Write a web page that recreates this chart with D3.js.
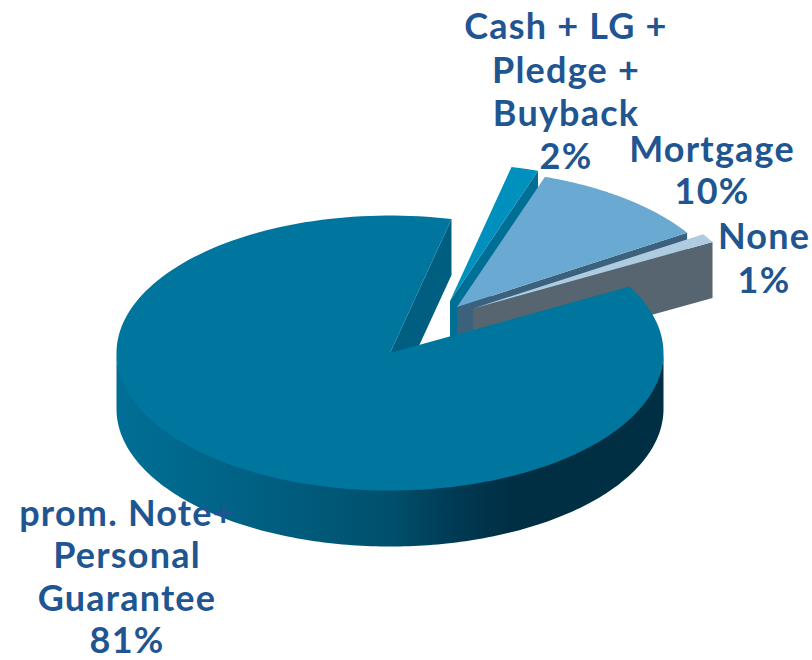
<!DOCTYPE html>
<html><head><meta charset="utf-8">
<script src="https://cdn.jsdelivr.net/npm/d3@7"></script>
<style>html,body{margin:0;padding:0;background:#fff}svg{display:block}</style>
</head><body><svg id="c" width="812" height="660"></svg>
<script>
const categories = ["Cash + LG + Pledge + Buyback", "Mortgage", "None", "prom. Note+ Personal Guarantee"];
const values = [1.5, 10, 1, 81];
const labelLines = [
  ["Cash + LG +", "Pledge +", "Buyback", "2%"],
  ["Mortgage", "10%"],
  ["None", "1%"],
  ["prom. Note+", "Personal", "Guarantee", "81%"]
];

const W = 812, H = 660, depth = 56, rx = 273.5, ry = 137.5;
const deg = Math.PI / 180;
const centers = [[450, 301], [457, 307], [473, 308.5], [390, 353]];
const tops = ["#0090bd", "#6aa9d2", "#aecbe0", "#00769f"];
const sides = ["#006f96", "#3b617d", "#56656f", "#005f81"];
const labelPos = [
  {x: 566, ys: [26, 70, 113, 156]},
  {x: 712, ys: [149, 191]},
  {x: 764, ys: [236, 280]},
  {x: 127, ys: [513, 555, 598, 640]}
];

const pie = d3.pie().sort(null).startAngle(13 * deg).endAngle(373 * deg);
const arcs = pie(values);
const svg = d3.select("#c");
const defs = svg.append("defs");
const grad = defs.append("linearGradient").attr("id", "rim").attr("gradientUnits", "userSpaceOnUse")
  .attr("x1", 116).attr("x2", 663).attr("y1", 0).attr("y2", 0);
[[0, "#006f96"], [0.28, "#005f81"], [0.5, "#00506d"], [0.62, "#003a53"], [0.72, "#002f44"], [1, "#002f44"]]
  .forEach(s => grad.append("stop").attr("offset", s[0]).attr("stop-color", s[1]));

const px = d3.scaleLinear().domain([-1, 1]).range([-rx, rx]);
const py = d3.scaleLinear().domain([-1, 1]).range([ry, -ry]);
const line = d3.line();
const point = (c, a, dz) => [c[0] + px(Math.sin(a)), c[1] + py(Math.cos(a)) + (dz || 0)];
const samples = (a0, a1) => d3.range(0, 181).map(i => a0 + (a1 - a0) * i / 180);

const g = svg.append("g");
arcs.forEach((d, i) => {
  const c = centers[i], a0 = d.startAngle, a1 = d.endAngle;
  // cut face on the clockwise edge
  const pe = point(c, a1, 0), pb = point(c, a1, depth);
  g.append("path").attr("d", line([c, pe, pb, [c[0], c[1] + depth]]) + "Z").attr("fill", sides[i]);
  // outer rim: only the part of the arc that faces the viewer (south half)
  const f0 = Math.max(a0, 90 * deg), f1 = Math.min(a1, 270 * deg);
  if (f1 > f0) {
    const s = samples(f0, f1);
    const pts = s.map(a => point(c, a, -2)).concat(s.slice().reverse().map(a => point(c, a, depth)));
    g.append("path").attr("d", line(pts) + "Z").attr("fill", "url(#rim)");
  }
  // top surface
  const topPts = [c].concat(samples(a0, a1).map(a => point(c, a, 0)));
  g.append("path").attr("d", line(topPts) + "Z").attr("fill", tops[i]);
});

const t = svg.append("g").attr("font-family", "Lato, sans-serif").attr("font-weight", 700)
  .attr("font-size", 36).attr("letter-spacing", 1.2).attr("fill", "#1f5590").attr("text-anchor", "middle");
labelLines.forEach((ls, i) => ls.forEach((s, j) => {
  t.append("text").attr("x", labelPos[i].x).attr("y", labelPos[i].ys[j]).attr("dy", "0.36em").text(s);
}));
</script></body></html>
